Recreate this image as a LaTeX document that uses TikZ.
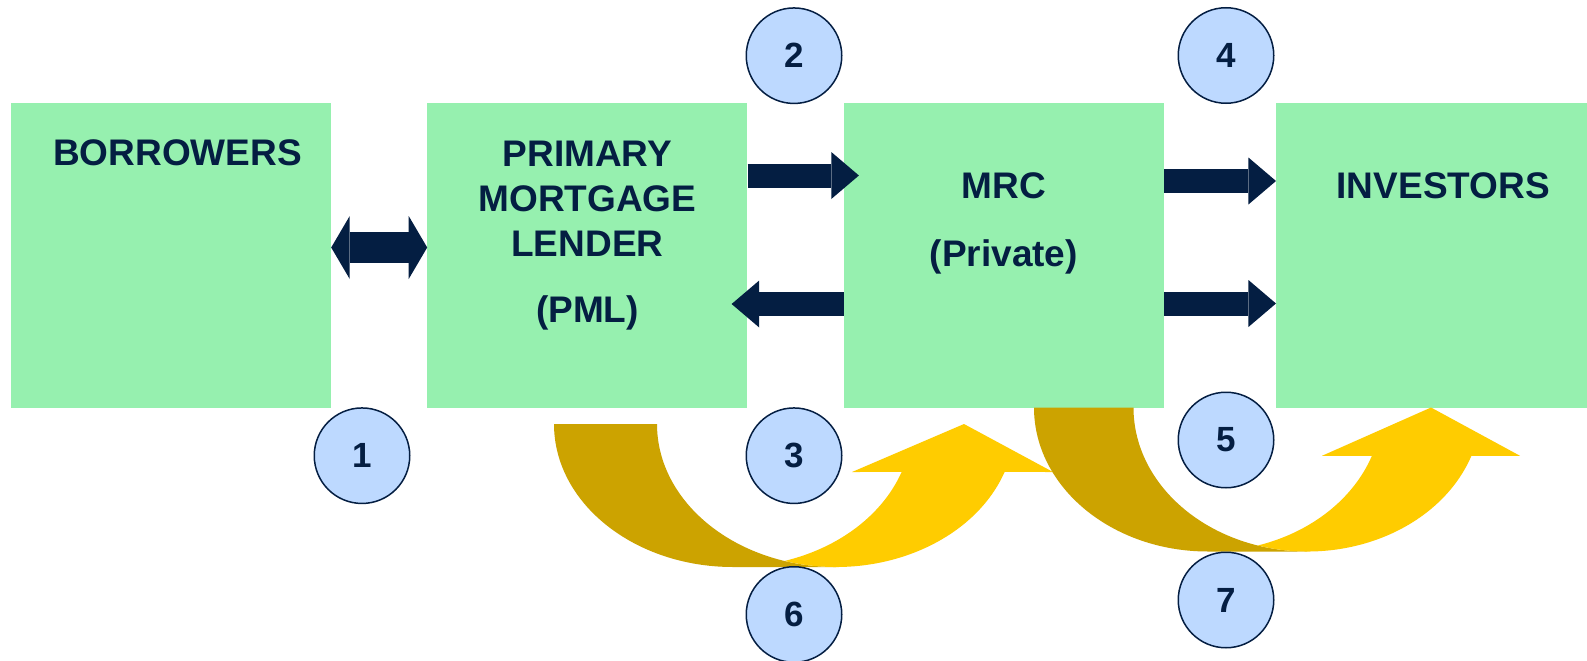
\documentclass[tikz,border=0pt]{standalone}
\usepackage{fontspec}
\setmainfont{Liberation Sans}
\usetikzlibrary{arrows.meta, positioning, calc}
\definecolor{navy}{RGB}{4,30,66}
\definecolor{mint}{RGB}{150,240,175}
\definecolor{bubble}{RGB}{189,217,255}
\definecolor{gold}{RGB}{204,163,0}
\definecolor{sun}{RGB}{255,204,0}
\newcommand{\boxfont}{\fontsize{37}{45}\selectfont\bfseries}

\begin{document}
\begin{tikzpicture}[
  x=1pt, y=-1pt,
  font=\boxfont,
  text=navy,
  node distance=96pt,
  party/.style={
    fill=mint,
    minimum width=320pt,
    minimum height=304.5pt,
    inner sep=0pt,
  },
  lbl/.style={align=center, inner sep=0pt, anchor=north},
  num/.style={
    circle,
    draw=navy,
    line width=1.5pt,
    fill=bubble,
    minimum size=95.5pt,
    inner sep=0pt,
    font=\fontsize{35}{40}\selectfont\bfseries,
  },
  flow/.style={draw=navy, line width=24pt,
    -{Triangle[length=27.6pt, width=47pt, line width=0pt]}},
  swap/.style={draw=navy, line width=31.6pt,
    {Triangle[length=18.5pt, width=63pt, line width=0pt]}-{Triangle[length=18.5pt, width=63pt, line width=0pt]}},
]
\clip (0,0) rectangle (1587,661);
\fill[white] (0,0) rectangle (1587,661);

% ---- the four parties, left to right --------------------------------------
\node[party] (bor) at (171,255.25) {};
\node[party, right=of bor] (pml) {};
\node[party, right=of pml] (mrc) {};
\node[party, right=112pt of mrc] (inv) {};

\node[lbl] (borT) at ([xshift=6.5pt, yshift=-37pt]bor.north) {BORROWERS};
\node[lbl] (pmlT) at ([yshift=-38.3pt]pml.north)
  {PRIMARY\\MORTGAGE\\LENDER\\[20.5pt](PML)};
\node[lbl] (mrcT) at ([yshift=-69.5pt]mrc.north) {MRC\\[23.6pt](Private)};
\node[lbl] (invT) at ([xshift=7pt, yshift=-70pt]inv.north) {INVESTORS};

% ---- block arrows between the boxes ---------------------------------------
\draw[swap] ([yshift=7.75pt]bor.east) -- ([yshift=7.75pt]pml.west);
\draw[flow] ([yshift=79.75pt]pml.east) -- ([xshift=15.3pt, yshift=79.75pt]mrc.west);
\draw[flow] ([yshift=-48.75pt]mrc.west) -- ([xshift=-16pt, yshift=-48.75pt]pml.east);
\draw[flow] ([yshift=74.25pt]mrc.east) -- ([yshift=74.25pt]inv.west);
\draw[flow] ([yshift=-48.25pt]mrc.east) -- ([yshift=-48.25pt]inv.west);

% ---- curved ribbons under the boxes ---------------------------------------
% dark back half first, the bright front half with its head over it
\fill[gold] (554,424)
  arc[start angle=180, end angle=270, x radius=179pt, y radius=143pt]
  -- (836,567)
  arc[start angle=270, end angle=180, x radius=179pt, y radius=143pt] -- cycle;
\fill[sun] ($(733,424)+(286.72:179pt and 143pt)$)
  arc[start angle=286.72, end angle=340.4, x radius=179pt, y radius=143pt]
  -- (852,472) -- (964,424) -- (1053,472)
  -- ($(836,424)+(340.4:179pt and 143pt)$)
  arc[start angle=340.4, end angle=253.28, x radius=179pt, y radius=143pt] -- cycle;

\fill[gold] (1034,407.5)
  arc[start angle=180, end angle=270, x radius=174pt, y radius=144pt]
  -- (1307.5,551.5)
  arc[start angle=270, end angle=180, x radius=174pt, y radius=144pt] -- cycle;
\fill[sun] ($(1208,407.5)+(286.6:174pt and 144pt)$)
  arc[start angle=286.6, end angle=340.4, x radius=174pt, y radius=144pt]
  -- (1322,455.8) -- (1431,407.5) -- (1520,455.8)
  -- ($(1307.5,407.5)+(340.4:174pt and 144pt)$)
  arc[start angle=340.4, end angle=253.4, x radius=174pt, y radius=144pt] -- cycle;

% ---- step numbers ---------------------------------------------------------
\node[num] (n1) at (362,455.7) {1};
\node[num] (n2) at (794,55.7) {2};
\node[num] (n3) at (794,455.7) {3};
\node[num] (n4) at (1226,55.5) {4};
\node[num] (n5) at (1226,440) {5};
\node[num] (n6) at (794,614.5) {6};
\node[num] (n7) at (1226,600) {7};

\end{tikzpicture}
\end{document}
